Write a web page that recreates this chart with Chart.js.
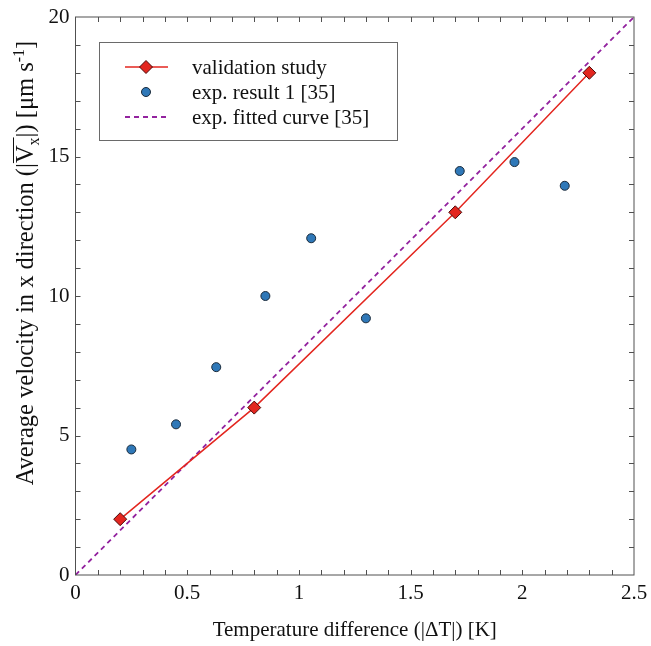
<!DOCTYPE html>
<html>
<head>
<meta charset="utf-8">
<script src="https://cdn.jsdelivr.net/npm/chart.js"></script>
<style>
  html, body { margin: 0; padding: 0; background: #fff; }
  #wrap { width: 651px; height: 646px; position: relative; }
</style>
</head>
<body>
<div id="wrap"><canvas id="chart"></canvas></div>
<script>
// validation study (red diamonds + line)
const validX = [0.2, 0.8, 1.7, 2.3];
const validY = [2, 6, 13, 18];

// exp. result 1 [35] (blue dots)
const expX = [0.25, 0.45, 0.63, 0.85, 1.055, 1.3, 1.72, 1.965, 2.19];
const expY = [4.5, 5.4, 7.45, 10.0, 12.07, 9.2, 14.48, 14.8, 13.95];

// exp. fitted curve [35] (dashed)
const fitX = [0, 2.5];
const fitY = [0, 20];

const xTickLabels = ['0', '0.5', '1', '1.5', '2', '2.5'];
const yTickLabels = ['0', '5', '10', '15', '20'];

const legendLabels = ['validation study', 'exp. result 1 [35]', 'exp. fitted curve [35]'];

const SERIF = '"Liberation Serif", "Times New Roman", serif';
const RED = '#e3261f';
const BLUE = '#2f78b8';
const PURPLE = '#93239f';
const FRAME = '#505050';

const toPts = (xs, ys) => xs.map((x, i) => ({ x: x, y: ys[i] }));

// frame, inward ticks, titles and legend box
const decorPlugin = {
    id: 'decor',
    afterDraw(chart) {
        const ctx = chart.ctx;
        const a = chart.chartArea;
        const xs = chart.scales.x;
        const ys = chart.scales.y;

        ctx.save();
        ctx.strokeStyle = FRAME;
        ctx.lineWidth = 1;
        ctx.strokeRect(a.left, a.top, a.right - a.left, a.bottom - a.top);

        // minor ticks every 0.1 on x and every 1 on y, on all four sides
        const tl = 5;
        ctx.beginPath();
        for (let i = 1; i < 25; i++) {
            const px = Math.round(xs.getPixelForValue(i / 10)) + 0.5;
            ctx.moveTo(px, a.bottom); ctx.lineTo(px, a.bottom - tl);
            ctx.moveTo(px, a.top); ctx.lineTo(px, a.top + tl);
        }
        for (let j = 1; j < 20; j++) {
            const py = Math.round(ys.getPixelForValue(j)) + 0.5;
            ctx.moveTo(a.left, py); ctx.lineTo(a.left + tl, py);
            ctx.moveTo(a.right, py); ctx.lineTo(a.right - tl, py);
        }
        ctx.stroke();

        // x title
        ctx.fillStyle = '#111';
        ctx.font = '21px ' + SERIF;
        ctx.textAlign = 'center';
        ctx.textBaseline = 'alphabetic';
        ctx.fillText('Temperature difference (|\u0394T|) [K]', (a.left + a.right) / 2, 636);

        // y title with overline, subscript, superscript
        const big = '24.5px ' + SERIF;
        const small = '16px ' + SERIF;
        const parts = [
            { t: 'Average velocity in x direction (|', f: big, dy: 0 },
            { t: 'V', f: big, dy: 0, over: true },
            { t: 'x', f: small, dy: 5.5, over: true },
            { t: '|) [\u03bcm s', f: big, dy: 0 },
            { t: '-1', f: small, dy: -9.5 },
            { t: ']', f: big, dy: 0 }
        ];
        let total = 0;
        parts.forEach(p => { ctx.font = p.f; p.w = ctx.measureText(p.t).width; total += p.w; });
        ctx.translate(33, 263);
        ctx.rotate(-Math.PI / 2);
        ctx.textAlign = 'left';
        let cx = -total / 2;
        let overStart = null, overEnd = null;
        parts.forEach(p => {
            ctx.font = p.f;
            ctx.fillText(p.t, cx, p.dy);
            if (p.over) {
                if (overStart === null) overStart = cx;
                overEnd = cx + p.w;
            }
            cx += p.w;
        });
        ctx.strokeStyle = '#111';
        ctx.beginPath();
        ctx.moveTo(overStart, -19.5);
        ctx.lineTo(overEnd, -19.5);
        ctx.stroke();
        ctx.restore();

        // legend
        ctx.save();
        const lx = 99, ly = 42, lw = 298, lh = 98;
        ctx.fillStyle = '#fff';
        ctx.fillRect(lx, ly, lw, lh);
        ctx.strokeStyle = '#6a6a6a';
        ctx.lineWidth = 1;
        ctx.strokeRect(lx + 0.5, ly + 0.5, lw, lh);

        const rows = [67, 92, 117];
        const s0 = 125, s1 = 168, sc = 146;
        // row 1: red line + diamond
        ctx.strokeStyle = RED;
        ctx.lineWidth = 1.5;
        ctx.beginPath(); ctx.moveTo(s0, rows[0]); ctx.lineTo(s1, rows[0]); ctx.stroke();
        ctx.fillStyle = RED; ctx.strokeStyle = '#4a0a0a'; ctx.lineWidth = 1;
        ctx.beginPath();
        ctx.moveTo(sc, rows[0] - 6.5); ctx.lineTo(sc + 6.5, rows[0]);
        ctx.lineTo(sc, rows[0] + 6.5); ctx.lineTo(sc - 6.5, rows[0]); ctx.closePath();
        ctx.fill(); ctx.stroke();
        // row 2: blue dot
        ctx.fillStyle = BLUE; ctx.strokeStyle = '#1b2b3b';
        ctx.beginPath(); ctx.arc(sc, rows[1], 4.5, 0, Math.PI * 2); ctx.fill(); ctx.stroke();
        // row 3: dashed purple
        ctx.strokeStyle = PURPLE;
        ctx.lineWidth = 1.8;
        ctx.setLineDash([5, 4]);
        ctx.beginPath(); ctx.moveTo(s0, rows[2]); ctx.lineTo(s1, rows[2]); ctx.stroke();
        ctx.setLineDash([]);

        ctx.fillStyle = '#111';
        ctx.font = '21px ' + SERIF;
        ctx.textAlign = 'left';
        ctx.textBaseline = 'middle';
        legendLabels.forEach((t, i) => ctx.fillText(t, 192, rows[i] + 1));
        ctx.restore();
    }
};

new Chart(document.getElementById('chart'), {
    type: 'scatter',
    data: {
        datasets: [{
            label: legendLabels[0],
            data: toPts(validX, validY),
            showLine: true,
            borderColor: RED,
            borderWidth: 1.5,
            pointStyle: 'rectRot',
            pointRadius: 6.5,
            pointBackgroundColor: RED,
            pointBorderColor: '#4a0a0a',
            pointBorderWidth: 1,
            order: 2
        }, {
            label: legendLabels[1],
            data: toPts(expX, expY),
            showLine: false,
            pointStyle: 'circle',
            pointRadius: 4.5,
            pointBackgroundColor: BLUE,
            pointBorderColor: '#1b2b3b',
            pointBorderWidth: 1,
            order: 1
        }, {
            label: legendLabels[2],
            data: toPts(fitX, fitY),
            showLine: true,
            borderColor: PURPLE,
            borderWidth: 1.8,
            borderDash: [5, 4],
            pointRadius: 0,
            order: 3
        }]
    },
    options: {
        responsive: true,
        maintainAspectRatio: false,
        animation: false,
        layout: { padding: { left: 0, right: 17, top: 17, bottom: 0 } },
        plugins: {
            legend: { display: false },
            tooltip: { enabled: false }
        },
        scales: {
            x: {
                type: 'linear',
                min: 0,
                max: 2.5,
                afterFit: s => { s.height = 71; s.paddingLeft = 0; s.paddingRight = 0; },
                afterBuildTicks: s => { s.ticks = xTickLabels.map(v => ({ value: parseFloat(v) })); },
                ticks: {
                    padding: 6,
                    maxRotation: 0,
                    color: '#111',
                    font: { family: SERIF, size: 21 },
                    callback: (v, i) => xTickLabels[i]
                },
                grid: { display: false, drawTicks: false },
                border: { display: false }
            },
            y: {
                type: 'linear',
                min: 0,
                max: 20,
                afterFit: s => { s.width = 75.5; s.paddingTop = 0; s.paddingBottom = 0; },
                afterBuildTicks: s => { s.ticks = yTickLabels.map(v => ({ value: parseFloat(v) })); },
                ticks: {
                    padding: 6,
                    color: '#111',
                    font: { family: SERIF, size: 21 },
                    callback: (v, i) => yTickLabels[i]
                },
                grid: { display: false, drawTicks: false },
                border: { display: false }
            }
        }
    },
    plugins: [decorPlugin]
});
</script>
</body>
</html>
